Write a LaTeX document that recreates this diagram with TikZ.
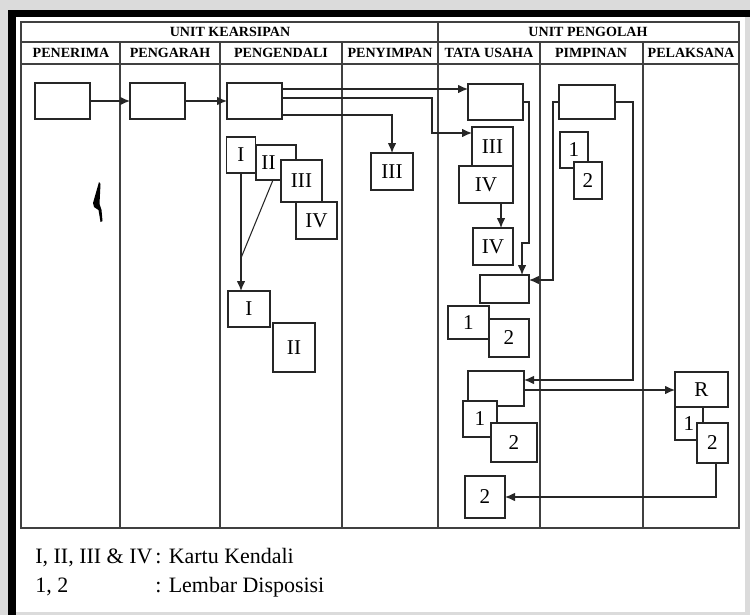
\documentclass[tikz,border=0pt]{standalone}
\usepackage{fontspec}
\setmainfont{Liberation Serif}
\usetikzlibrary{arrows.meta}

\begin{document}
\begin{tikzpicture}[x=0.02cm, y=-0.02cm,
    card/.style={draw=black!85, fill=white, line width=0.6pt, inner sep=0pt, outer sep=0pt, font=\fontsize{12}{14}\selectfont},
    sz/.style 2 args={minimum width=#1*0.02cm, minimum height=#2*0.02cm},
    lane/.style={draw=black!75, line width=0.6pt},
    hdr/.style={font=\fontsize{8}{9}\selectfont\bfseries, inner sep=0pt},
    arrow/.style={->, >={Latex[length=2mm,width=1.7mm]}, line width=0.6pt, draw=black!85},
    legend/.style={font=\fontsize{12.5}{15}\selectfont, anchor=base west, inner sep=0pt}
]
    \useasboundingbox (0,0) rectangle (750,615);

    % Page and frame
    \fill[black!14] (0,0) rectangle (750,615);
    \fill[white] (16,17) rectangle (745,612);
    \fill[black] (8,10) rectangle (750,17);
    \fill[black] (8,10) rectangle (16,615);

    % Table and lanes
    \draw[lane] (21,22) rectangle (739,528);
    \draw[lane] (21,42) -- (739,42);
    \draw[lane] (21,64) -- (739,64);
    \draw[lane] (438,22) -- (438,528);
    \foreach \x in {120,220,342,540,643}
        \draw[lane] (\x,42) -- (\x,528);

    % Headers
    \node[hdr] (kearsipan) at (230,32) {UNIT KEARSIPAN};
    \node[hdr] (pengolah) at (588,32) {UNIT PENGOLAH};
    \node[hdr] (penerima) at (71,53) {PENERIMA};
    \node[hdr] (pengarah) at (170,53) {PENGARAH};
    \node[hdr] (pengendali) at (281,53) {PENGENDALI};
    \node[hdr] (penyimpan) at (390,53) {PENYIMPAN};
    \node[hdr] (tatausaha) at (489,53) {TATA USAHA};
    \node[hdr] (pimpinan) at (591,53) {PIMPINAN};
    \node[hdr] (pelaksana) at (691,53) {PELAKSANA};

    % Penerima, Pengarah
    \node[card, sz={55}{36}] (terima) at (62.5,101) {};
    \node[card, sz={55}{36}] (arah) at (157.5,101) {};
    \fill (99,182) -- (100.5,184) -- (99.5,204) -- (101.5,210) -- (102.5,221) -- (100.5,222) -- (98.5,210) -- (94,207) -- (93,203) -- cycle;

    % Pengendali
    \node[card, sz={55}{36}] (kendali) at (254.5,101) {};
    \node[card, sz={40}{35}] (kII) at (276,162.5) {II\kern.3cm};
    \node[card, sz={29}{36}] (kI) at (241,155) {I};
    \node[card, sz={41}{42}] (kIII) at (301.5,181) {III};
    \node[card, sz={41}{37}] (kIV) at (316.5,220.5) {IV};
    \node[card, sz={42}{36}] (kIb) at (249,309) {I};
    \node[card, sz={42}{49}] (kIIb) at (294,347.5) {II};
    \coordinate (kjoin) at (241,258);

    % Penyimpan
    \node[card, sz={42}{37}] (simpan) at (392,171.5) {III};

    % Tata usaha
    \node[card, sz={55}{36}] (tusA) at (495.5,102) {};
    \node[card, sz={41}{39}] (tusIII) at (492.5,146.5) {III};
    \node[card, sz={54}{37}] (tusIV) at (486,184.5) {IV};
    \node[card, sz={40}{37}] (tusIVb) at (493,246.5) {IV};
    \node[card, sz={49}{28}] (tusB) at (504.5,289) {};
    \node[card, sz={41}{33}] (tus1) at (468.5,322.5) {1};
    \node[card, sz={40}{38}] (tus2) at (509,338) {2};
    \node[card, sz={56}{35}] (tusC) at (496,388.5) {};
    \node[card, sz={34}{36}] (tus1b) at (480,419) {1};
    \node[card, sz={46}{39}] (tus2b) at (514,442.5) {2};
    \node[card, sz={40}{42}] (tus2c) at (485,497) {2};

    % Pimpinan
    \node[card, sz={56}{34}] (pimA) at (587,102) {};
    \node[card, sz={28}{36}] (pim1) at (574,150) {1};
    \node[card, sz={28}{37}] (pim2) at (588,180.5) {2};

    % Pelaksana
    \node[card, sz={53}{35}] (laksR) at (701.5,389.5) {R};
    \node[card, sz={28}{33}] (laks1) at (689,423.5) {1};
    \node[card, sz={31}{40}] (laks2) at (712.5,443) {2};

    % Bends
    \coordinate (kb) at (432,133);
    \coordinate (ta) at (529,243);
    \coordinate (pa) at (553,280);
    \coordinate (pb) at (633,380);

    % Arrows
    \draw[arrow] (terima) -- (arah);
    \draw[arrow] (arah) -- (kendali);
    \draw[arrow] ([yshift=.24cm]kendali.east) coordinate (k1) -- (k1 -| tusA.west);
    \draw[arrow] ([yshift=.06cm]kendali.east) -| (kb) -- (kb -| tusIII.west);
    \draw[arrow] ([yshift=-.28cm]kendali.east) -| (simpan.north);
    \draw[arrow] (kI.south) -- (kI.south |- kIb.north);
    \draw[line width=0.6pt, black!85] ([xshift=-.06cm]kII.south) -- (kjoin);
    \draw[arrow] ([xshift=.3cm]tusIV.south) -- ([xshift=.3cm]tusIV.south |- tusIVb.north);
    \draw[arrow] (tusA.east) -| (ta) -| ([xshift=.35cm]tusB.north);
    \draw[arrow] (pimA.west) -| (pa) -- (pa -| tusB.east);
    \draw[arrow] (pimA.east) -| (pb) -- (pb -| tusC.east);
    \draw[arrow] ([yshift=-.03cm]tusC.east) coordinate (t1) -- (t1 -| laksR.west);
    \draw[arrow] ([xshift=.07cm]laks2.south) |- (tus2c.east);

    % Legend
    \node[legend] (kk) at (35,563) {I, II, III \& IV};
    \node[legend] (kkt) at (155,563) {: Kartu Kendali};
    \node[legend] (ld) at (35,592) {1, 2};
    \node[legend] (ldt) at (155,592) {: Lembar Disposisi};
\end{tikzpicture}
\end{document}
